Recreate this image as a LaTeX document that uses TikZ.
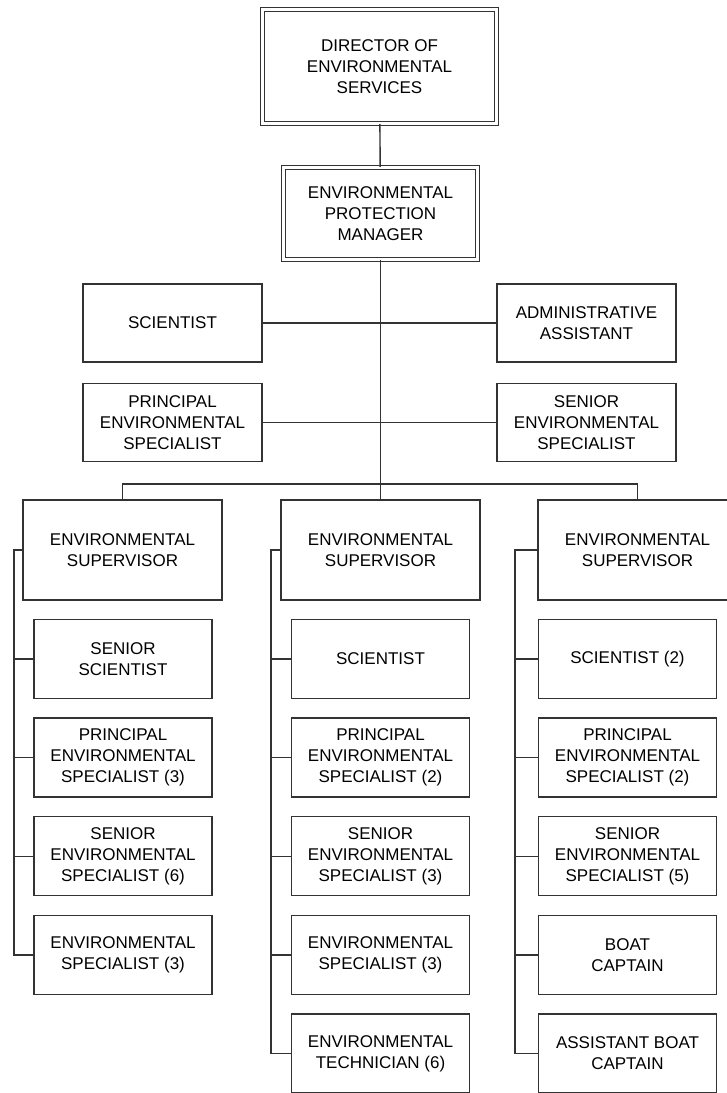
\documentclass[tikz,border=0pt]{standalone}
\usepackage{fontspec}
\setmainfont{Liberation Sans}
\usetikzlibrary{positioning}

\begin{document}
\begin{tikzpicture}[
    x=1pt,
    y=-1pt,
    font=\fontsize{17}{21}\selectfont,
    box/.style={
        rectangle,
        draw=black!80,
        fill=white,
        line width=1.4pt,
        align=center,
        inner sep=0pt,
        minimum width=179pt,
        minimum height=78pt
    },
    head/.style={
        box,
        line width=1.3pt,
        double=white,
        double distance=2.4pt
    },
    sup/.style={
        box,
        minimum width=199pt,
        minimum height=100pt
    },
    staff/.style={
        box,
        minimum width=178pt,
        minimum height=79pt
    },
    link/.style={
        draw=black!80,
        line width=1.4pt
    }
]
    \useasboundingbox (0,0) rectangle (727,1093);

    % Level 1: Director and Manager
    \node [head, minimum width=234pt, minimum height=114pt] (director) at (379.5,66.5) {DIRECTOR OF\\ ENVIRONMENTAL\\ SERVICES};
    \node [head, minimum width=194pt, minimum height=92pt] (manager) at (380.5,213.5) {ENVIRONMENTAL\\ PROTECTION\\ MANAGER};

    % Level 2: Staff of the manager
    \node [box] (sci) at (172.5,323) {SCIENTIST};
    \node [box] (admin) at (586.5,323) {ADMINISTRATIVE\\ ASSISTANT};
    \node [box] (pes) at (172.5,422.5) {PRINCIPAL\\ ENVIRONMENTAL\\ SPECIALIST};
    \node [box] (ses) at (586.5,422.5) {SENIOR\\ ENVIRONMENTAL\\ SPECIALIST};

    % Level 3: Supervisors
    \node [sup] (supL) at (122.5,550) {ENVIRONMENTAL\\ SUPERVISOR};
    \node [sup] (supM) at (380.5,550) {ENVIRONMENTAL\\ SUPERVISOR};
    \node [sup] (supR) at (637.5,550) {ENVIRONMENTAL\\ SUPERVISOR};

    % Level 4: Left team
    \node [staff] (l1) at (123,659) {SENIOR\\ SCIENTIST};
    \node [staff] (l2) at (123,757.6) {PRINCIPAL\\ ENVIRONMENTAL\\ SPECIALIST (3)};
    \node [staff] (l3) at (123,856.2) {SENIOR\\ ENVIRONMENTAL\\ SPECIALIST (6)};
    \node [staff] (l4) at (123,954.8) {ENVIRONMENTAL\\ SPECIALIST (3)};

    % Level 4: Middle team
    \node [staff] (m1) at (380.5,659) {SCIENTIST};
    \node [staff] (m2) at (380.5,757.6) {PRINCIPAL\\ ENVIRONMENTAL\\ SPECIALIST (2)};
    \node [staff] (m3) at (380.5,856.2) {SENIOR\\ ENVIRONMENTAL\\ SPECIALIST (3)};
    \node [staff] (m4) at (380.5,954.8) {ENVIRONMENTAL\\ SPECIALIST (3)};
    \node [staff] (m5) at (380.5,1053.4) {ENVIRONMENTAL\\ TECHNICIAN (6)};

    % Level 4: Right team
    \node [staff] (r1) at (627.5,659) {SCIENTIST (2)};
    \node [staff] (r2) at (627.5,757.6) {PRINCIPAL\\ ENVIRONMENTAL\\ SPECIALIST (2)};
    \node [staff] (r3) at (627.5,856.2) {SENIOR\\ ENVIRONMENTAL\\ SPECIALIST (5)};
    \node [staff] (r4) at (627.5,954.8) {BOAT\\ CAPTAIN};
    \node [staff] (r5) at (627.5,1053.4) {ASSISTANT BOAT\\ CAPTAIN};

    % Connections
    \coordinate (bus) at (380.5,484);
    \coordinate (spineL) at (14,550);
    \coordinate (spineM) at (271,550);
    \coordinate (spineR) at (515,550);

    \draw [link] (director) -- (manager);
    \draw [link] (manager) -- (bus);
    \draw [link] (sci) -- (admin);
    \draw [link] (pes) -- (ses);
    \draw [link] (supL) |- (bus) -| (supR);
    \draw [link] (bus) -- (supM);

    \draw [link] (supL) -- (spineL) |- (l4);
    \draw [link] (spineL |- l1) -- (l1);
    \draw [link] (spineL |- l2) -- (l2);
    \draw [link] (spineL |- l3) -- (l3);

    \draw [link] (supM) -- (spineM) |- (m5);
    \draw [link] (spineM |- m1) -- (m1);
    \draw [link] (spineM |- m2) -- (m2);
    \draw [link] (spineM |- m3) -- (m3);
    \draw [link] (spineM |- m4) -- (m4);

    \draw [link] (supR) -- (spineR) |- (r5);
    \draw [link] (spineR |- r1) -- (r1);
    \draw [link] (spineR |- r2) -- (r2);
    \draw [link] (spineR |- r3) -- (r3);
    \draw [link] (spineR |- r4) -- (r4);

\end{tikzpicture}
\end{document}
